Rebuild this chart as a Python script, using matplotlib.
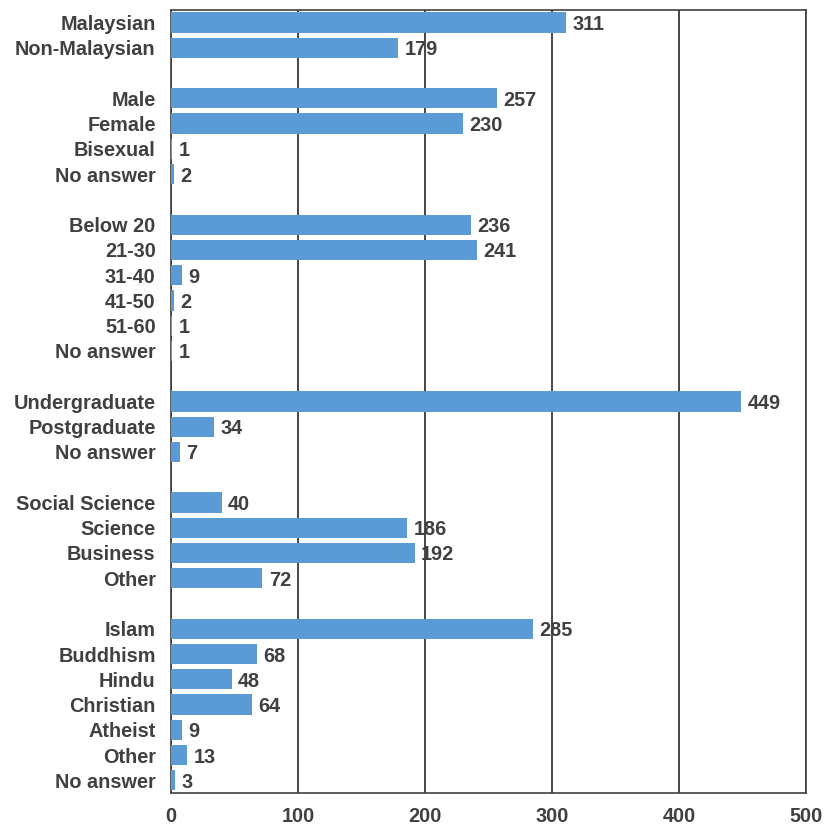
import matplotlib.pyplot as plt
import numpy as np

plt.rcParams['font.family'] = ['Liberation Sans', 'DejaVu Sans']

# respondent profile, one list pair per section (top to bottom)
nationality_labels = ["Malaysian", "Non-Malaysian"]
nationality_counts = [311, 179]

gender_labels = ["Male", "Female", "Bisexual", "No answer"]
gender_counts = [257, 230, 1, 2]

age_labels = ["Below 20", "21-30", "31-40", "41-50", "51-60", "No answer"]
age_counts = [236, 241, 9, 2, 1, 1]

education_labels = ["Undergraduate", "Postgraduate", "No answer"]
education_counts = [449, 34, 7]

faculty_labels = ["Social Science", "Science", "Business", "Other"]
faculty_counts = [40, 186, 192, 72]

religion_labels = ["Islam", "Buddhism", "Hindu", "Christian", "Atheist", "Other", "No answer"]
religion_counts = [285, 68, 48, 64, 9, 13, 3]

x_ticks = [0, 100, 200, 300, 400, 500]

sections = [
    (nationality_labels, nationality_counts),
    (gender_labels, gender_counts),
    (age_labels, age_counts),
    (education_labels, education_counts),
    (faculty_labels, faculty_counts),
    (religion_labels, religion_counts),
]

# flatten with a blank row between sections
labels, counts = [], []
for i, (lab, cnt) in enumerate(sections):
    if i > 0:
        labels.append("")
        counts.append(None)
    labels.extend(lab)
    counts.extend(cnt)

ypos = np.arange(len(labels))
text_color = "#404040"
bar_color = "#5B9BD5"
fs = 14.3

fig = plt.figure(figsize=(8.24, 8.26), dpi=100)
ax = fig.add_axes([0.2075, 0.04, 0.7705, 0.948])

for y, c in zip(ypos, counts):
    if c is None:
        continue
    ax.barh(y, c, height=0.8, color=bar_color, zorder=3)
    ax.annotate(str(c), (c, y), xytext=(4.5, 0), textcoords="offset points",
                va="center_baseline", ha="left", fontsize=fs, fontweight="bold",
                color=text_color, zorder=4)

ax.set_xlim(0, 500)
ax.set_ylim(len(labels) - 0.5, -0.5)
ax.set_xticks(x_ticks)
ax.set_xticklabels([str(t) for t in x_ticks], fontsize=fs, fontweight="bold",
                   color=text_color)
ax.set_yticks(ypos)
ax.set_yticklabels(labels, fontsize=fs, fontweight="bold", color=text_color)
ax.tick_params(axis="both", length=0)
ax.tick_params(axis="x", pad=10)
ax.tick_params(axis="y", pad=11)

ax.grid(axis="x", color="#262626", linewidth=1.2, zorder=1)
ax.grid(axis="y", visible=False)
for sp in ax.spines.values():
    sp.set_color("#404040")
    sp.set_linewidth(1.2)

fig.savefig("out.png", dpi=100, facecolor="white")
